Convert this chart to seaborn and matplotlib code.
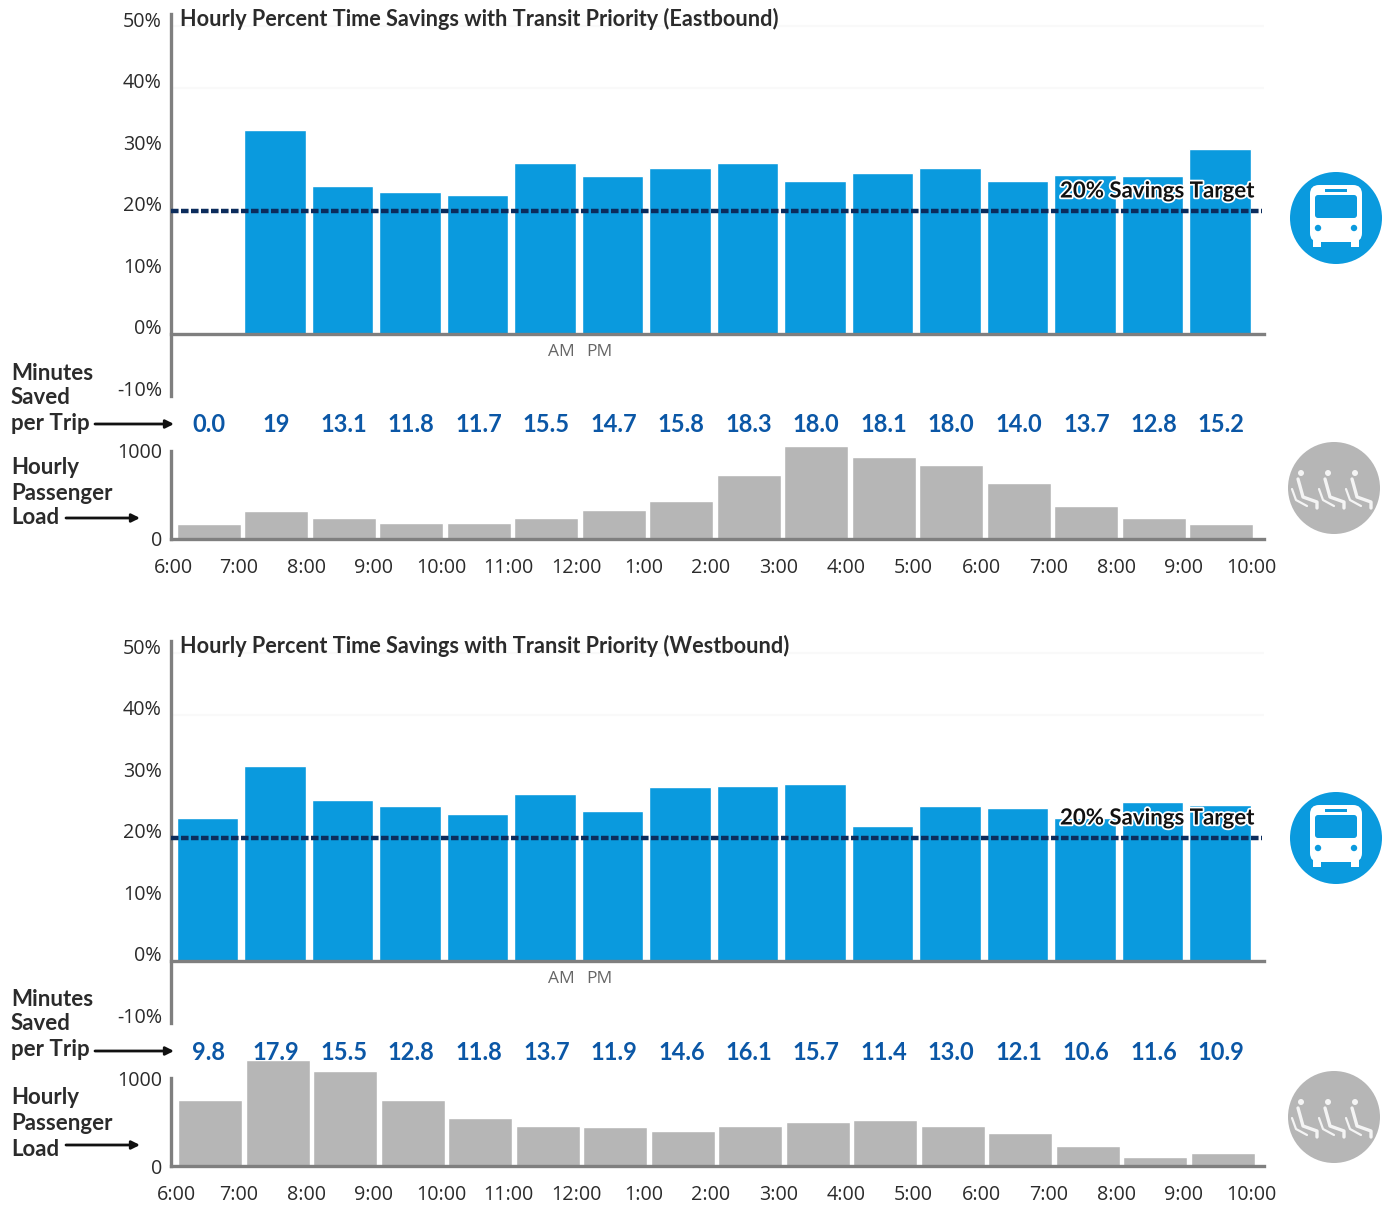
import numpy as np
import pandas as pd
import matplotlib
matplotlib.use("Agg")
import matplotlib.pyplot as plt
import matplotlib.patheffects as pe
from matplotlib.patches import Circle, FancyBboxPatch, Rectangle
from matplotlib.transforms import ScaledTranslation, blended_transform_factory
import seaborn as sns

hour_labels = ["6:00", "7:00", "8:00", "9:00", "10:00", "11:00", "12:00", "1:00", "2:00",
               "3:00", "4:00", "5:00", "6:00", "7:00", "8:00", "9:00", "10:00"]
slots = np.arange(16)

east_savings = [0, 33.1, 24.0, 23.0, 22.5, 27.7, 25.7, 26.9, 27.7, 24.9, 26.2, 26.9, 24.9, 25.9, 25.6, 30.0]
west_savings = [23.3, 31.6, 26.2, 25.1, 23.8, 27.2, 24.3, 28.2, 28.5, 28.7, 22.0, 25.1, 24.9, 23.3, 25.9, 25.4]
east_minutes = ["0.0", "19", "13.1", "11.8", "11.7", "15.5", "14.7", "15.8", "18.3", "18.0", "18.1", "18.0", "14.0", "13.7", "12.8", "15.2"]
west_minutes = ["9.8", "17.9", "15.5", "12.8", "11.8", "13.7", "11.9", "14.6", "16.1", "15.7", "11.4", "13.0", "12.1", "10.6", "11.6", "10.9"]
east_load = [170, 320, 240, 180, 180, 240, 330, 430, 730, 1055, 930, 840, 635, 375, 240, 170]
west_load = [750, 1205, 1080, 750, 545, 455, 443, 398, 455, 500, 523, 455, 375, 227, 102, 148]
target_pct = 20

BLUE = "#0a9ade"
GREY = "#b6b6b6"
AXIS = "#7f7f7f"
NAVY = "#0c2c5c"
VALUE = "#0b57a6"
INK = "#2b2b2b"
HEAD = ["Lato", "DejaVu Sans"]

sns.set_theme(style="white")
plt.rcParams["font.family"] = ["Open Sans", "DejaVu Sans"]

W, H = 1397, 1205
fig = plt.figure(figsize=(W / 100, H / 100), dpi=100)
X_PER_SLOT = 67.5
X0 = 207.5


def pixel_axes(left, right, top, bottom):
    return fig.add_axes([left / W, 1 - bottom / H, (right - left) / W, (bottom - top) / H])


def slot_limits(left, right):
    return (left - X0) / X_PER_SLOT, (right - X0) / X_PER_SLOT


overlay = fig.add_axes([0, 0, 1, 1], zorder=5)
overlay.set_xlim(0, W)
overlay.set_ylim(H, 0)
overlay.axis("off")
overlay.patch.set_alpha(0)


def draw_bus(cx, cy):
    overlay.add_patch(Circle((cx, cy), 46, fc=BLUE, ec="none"))
    overlay.add_patch(FancyBboxPatch((cx - 26, cy - 33), 52, 57, boxstyle="round,pad=0,rounding_size=9", fc="white", ec="none"))
    overlay.add_patch(Rectangle((cx - 23, cy + 20), 8, 9, fc="white", ec="none"))
    overlay.add_patch(Rectangle((cx + 15, cy + 20), 8, 9, fc="white", ec="none"))
    overlay.add_patch(FancyBboxPatch((cx - 21, cy - 23), 42, 23, boxstyle="round,pad=0,rounding_size=3", fc=BLUE, ec="none"))
    overlay.add_patch(Rectangle((cx - 11, cy - 29), 22, 2.5, fc=BLUE, ec="none"))
    overlay.add_patch(Circle((cx - 18, cy + 10), 3.2, fc=BLUE, ec="none"))
    overlay.add_patch(Circle((cx + 18, cy + 10), 3.2, fc=BLUE, ec="none"))


def draw_seats(cx, cy):
    overlay.add_patch(Circle((cx, cy), 46, fc=GREY, ec="none"))
    for shift in (-33, -6, 21):
        ox = cx + shift
        seat = "#f4f4f4"
        overlay.add_patch(Circle((ox, cy - 15), 3, fc=seat, ec="none"))
        overlay.plot([ox - 3, ox + 2, ox + 16, ox + 16], [cy - 9, cy + 9, cy + 14, cy + 20],
                     color=seat, lw=2.4, solid_capstyle="round", solid_joinstyle="round")
        overlay.plot([ox - 9, ox - 5, ox + 6], [cy + 1, cy + 12, cy + 18],
                     color=seat, lw=1.6, solid_capstyle="round")


def draw_panel(dy, direction, savings, minutes, load, first_edge, load_shift, text_dy):
    # Percent savings bars
    top = pixel_axes(171, 1264, 14 + dy, 396 + dy)
    top.patch.set_alpha(0)
    frame = pd.DataFrame({"slot": slots, "pct": savings})
    sns.barplot(data=frame, x="slot", y="pct", native_scale=True, width=0.905,
                color=BLUE, saturation=1, ax=top)
    top.set_xlim(*slot_limits(171, 1264))
    top.set_ylim(-10.1, 52)
    for level in (50, 40):
        top.axhline(level, color="#f9f9f9", lw=1.5, zorder=0)
    top.set_xlabel("")
    top.set_ylabel("")
    top.set_xticks([])
    top.set_yticks(np.arange(-10, 60, 10))
    top.set_yticklabels([f"{v}%" for v in np.arange(-10, 60, 10)], fontsize=14.2, color=INK)
    top.tick_params(axis="y", length=0, pad=6.5)
    raise_labels = ScaledTranslation(0, 7 / 100, fig.dpi_scale_trans)
    for label in top.get_yticklabels():
        label.set_transform(label.get_transform() + raise_labels)
    for side in ("top", "right"):
        top.spines[side].set_visible(False)
    top.spines["bottom"].set_position(("data", 0))
    for side in ("left", "bottom"):
        top.spines[side].set_color(AXIS)
        top.spines[side].set_linewidth(2.4)
    top.axhline(target_pct, color=NAVY, lw=3.2, ls=(0, (1.7, 0.55)), xmax=0.998, zorder=4)

    # Hourly passenger load bars
    low = pixel_axes(171, 1264, 419 + dy, 539 + dy)
    low.patch.set_alpha(0)
    frame = pd.DataFrame({"slot": slots + load_shift, "riders": load})
    sns.barplot(data=frame, x="slot", y="riders", native_scale=True, width=0.95,
                color=GREY, saturation=1, ax=low)
    low.set_xlim(*slot_limits(171, 1264))
    low.set_ylim(0, 120 / 0.088)
    low.set_xlabel("")
    low.set_ylabel("")
    edges = np.arange(-0.5, 16, 1.0) - 0.04
    edges[0] = first_edge
    low.set_xticks(edges)
    low.set_xticklabels(hour_labels, fontsize=14.2, color=INK)
    low.set_yticks([0, 1000])
    low.set_yticklabels(["0", "1000"], fontsize=14.2, color=INK)
    low.tick_params(axis="both", length=0)
    low.tick_params(axis="y", pad=6.5)
    low.tick_params(axis="x", pad=14)
    for side in ("top", "right"):
        low.spines[side].set_visible(False)
    low.spines["left"].set_bounds(0, 1000)
    for side in ("left", "bottom"):
        low.spines[side].set_color(AXIS)
        low.spines[side].set_linewidth(2.4)

    # Minutes saved row sits between the two charts
    row = blended_transform_factory(top.transData, overlay.transData)
    for slot, text in zip(slots + 0.02, minutes):
        overlay.text(slot, 425 + dy, text, transform=row, ha="center", va="center",
                     fontsize=17, fontweight="bold", color=VALUE, family=HEAD)

    overlay.text(180, 19 + dy, f"Hourly Percent Time Savings with Transit Priority ({direction})",
                 ha="left", va="center", fontsize=15.6, fontweight="bold", color=INK, family=HEAD)
    overlay.text(561, 352 + dy, "AM", ha="center", va="center", fontsize=12.5, color="#666666")
    overlay.text(599, 352 + dy, "PM", ha="center", va="center", fontsize=12.5, color="#666666")
    overlay.text(1255, 191 + dy, "20% Savings Target", ha="right", va="center", fontsize=16,
                 fontweight="bold", color="#111111", family=HEAD,
                 path_effects=[pe.withStroke(linewidth=2.5, foreground="white")])

    for y, text in zip((373, 398, 424), ("Minutes", "Saved", "per Trip")):
        overlay.text(11, y + dy - text_dy, text, ha="left", va="center", fontsize=16, fontweight="bold",
                     color=INK, family=HEAD)
    for y, text in zip((467, 493, 518), ("Hourly", "Passenger", "Load")):
        overlay.text(11, y + dy + 4 * text_dy, text, ha="left", va="center", fontsize=16, fontweight="bold",
                     color=INK, family=HEAD)
    arrow = dict(arrowstyle="-|>", color="#111111", lw=2, mutation_scale=12, shrinkA=0, shrinkB=0)
    overlay.annotate("", xy=(174, 424 + dy), xytext=(95, 424 + dy), arrowprops=arrow)
    overlay.annotate("", xy=(140, 518 + dy), xytext=(66, 518 + dy), arrowprops=arrow)

    draw_bus(1336, 218 + dy - (7 if dy else 0))
    draw_seats(1334, 488 + dy + (2 if dy else 0))


draw_panel(0, "Eastbound", east_savings, east_minutes, east_load, -0.5, 0.02, 0)
draw_panel(627, "Westbound", west_savings, west_minutes, west_load, -0.46, 0.04, 1)

fig.savefig("out.png", dpi=100, facecolor="white")
